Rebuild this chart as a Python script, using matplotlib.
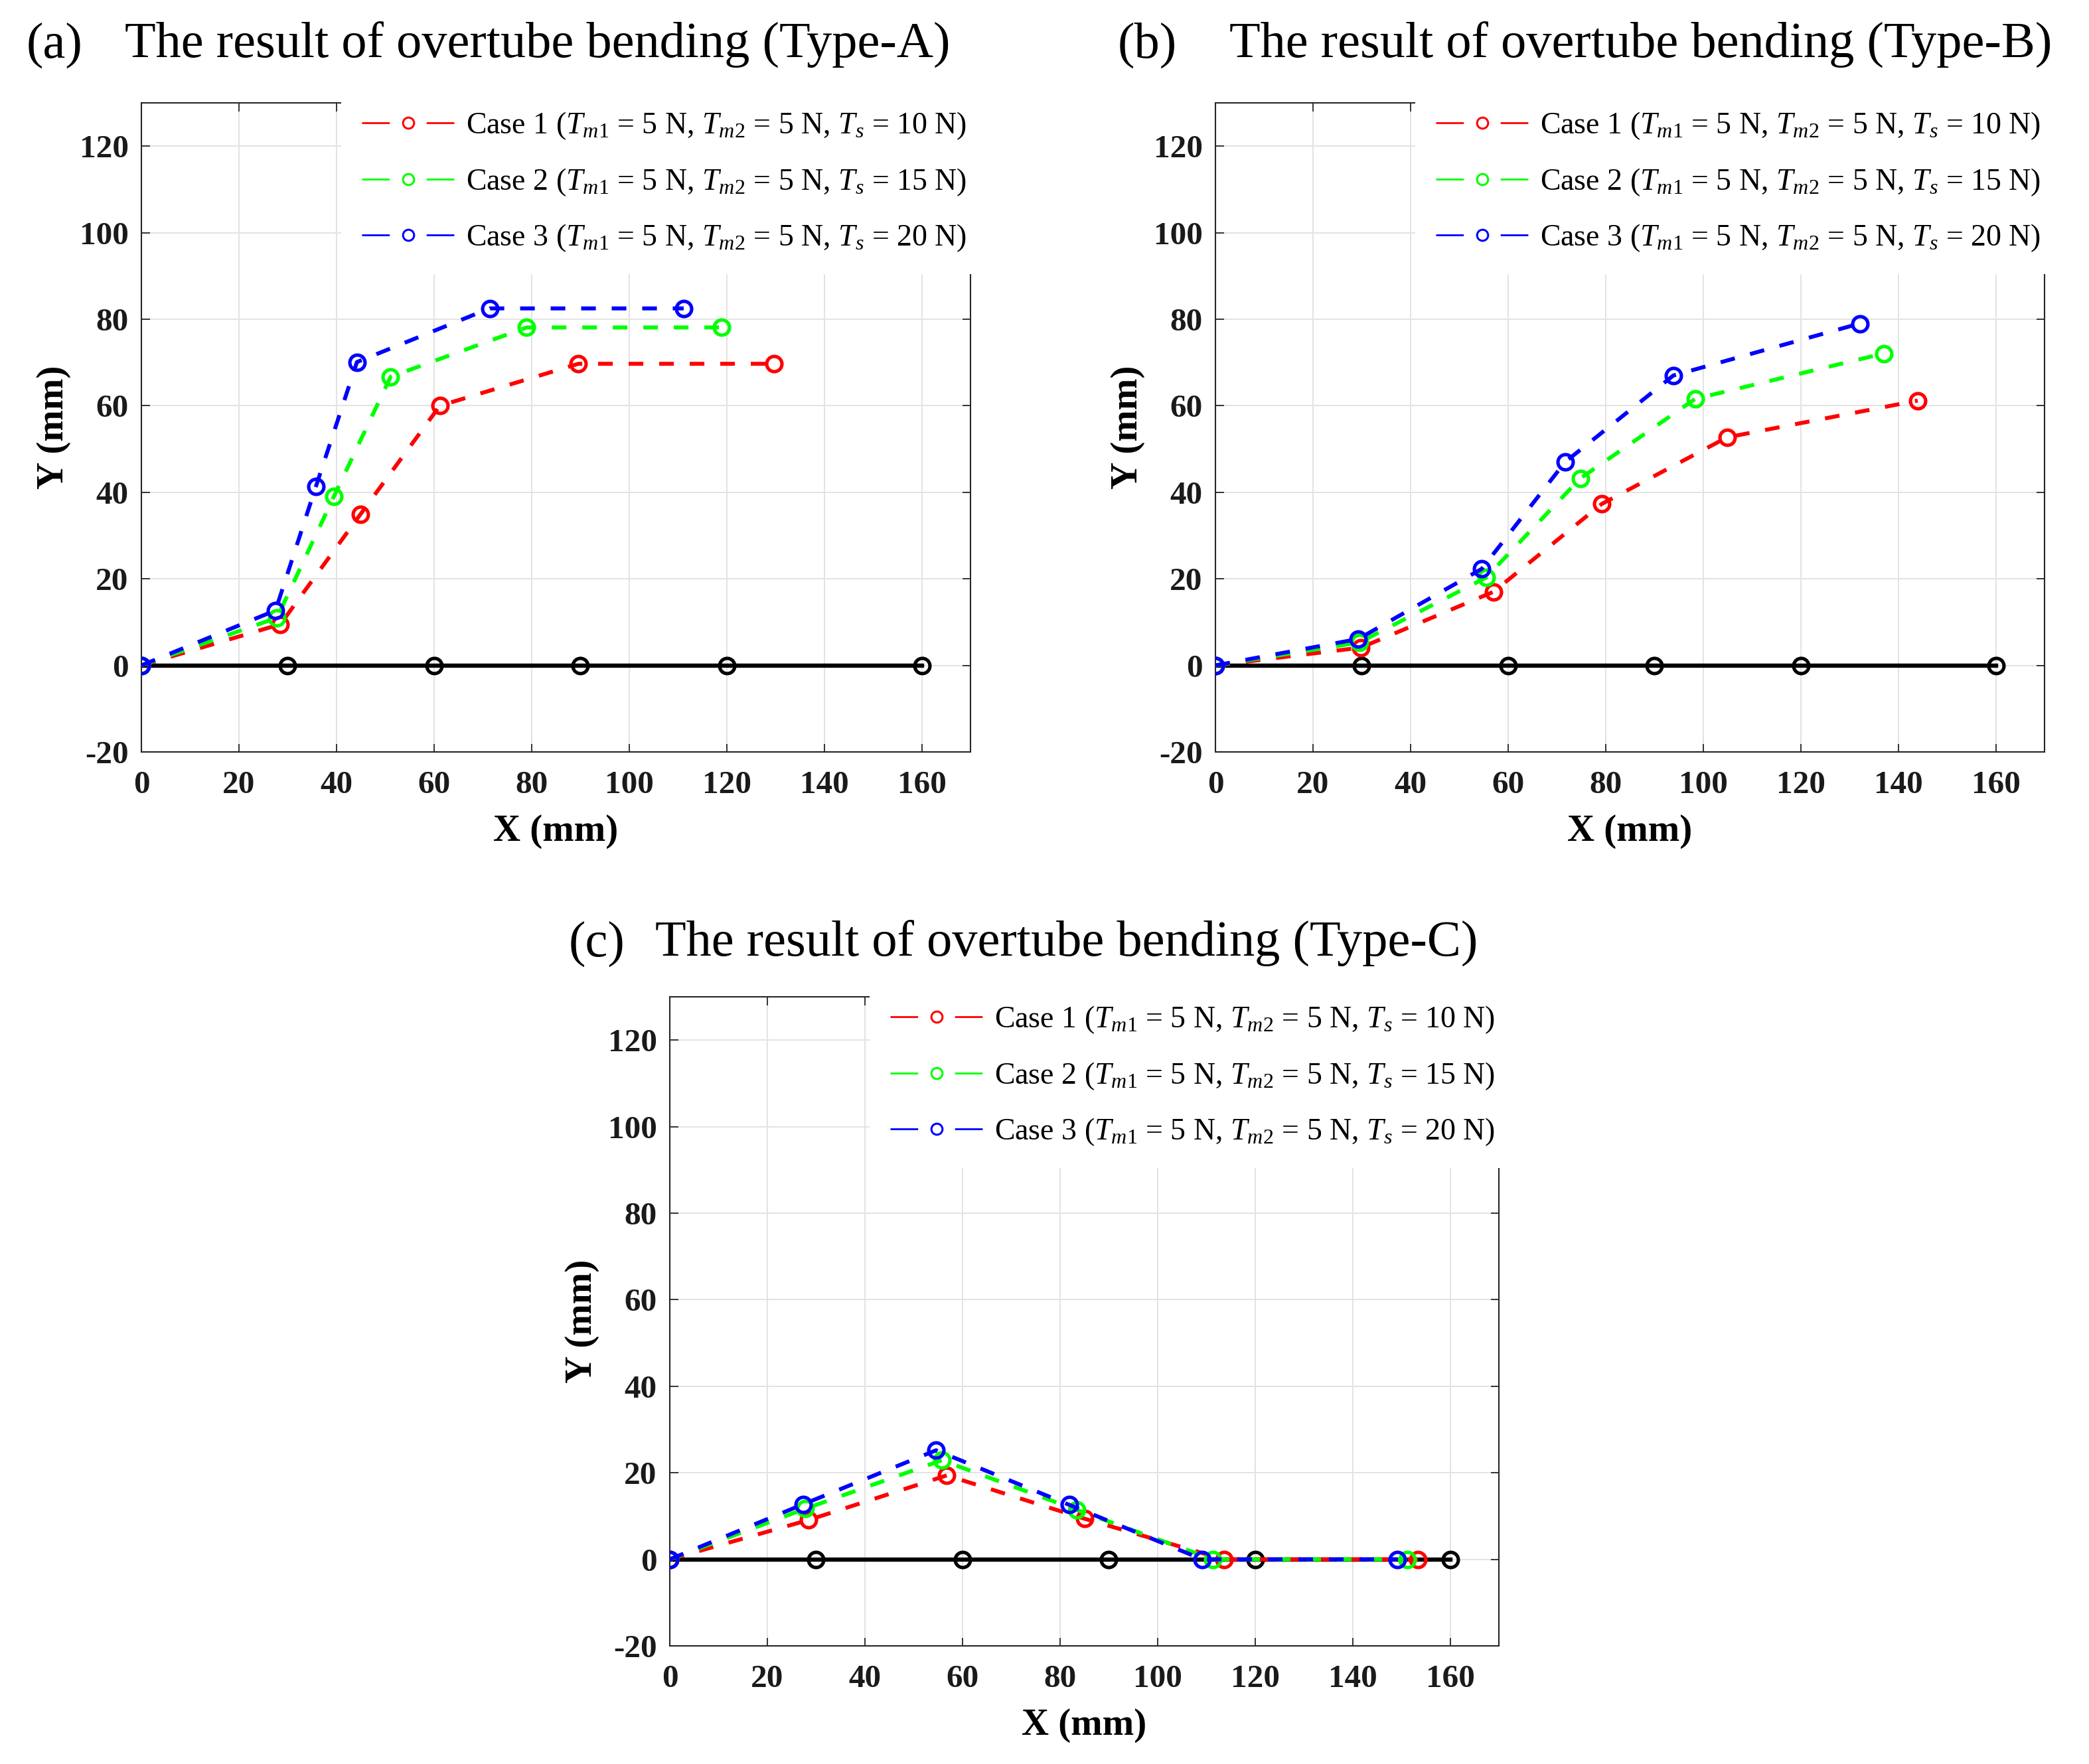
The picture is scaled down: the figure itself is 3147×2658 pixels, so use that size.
import matplotlib
matplotlib.use('Agg')
import matplotlib.pyplot as plt
from matplotlib.lines import Line2D

plt.rcParams['font.family'] = ['Liberation Serif', 'DejaVu Serif']
plt.rcParams['mathtext.fontset'] = 'custom'
plt.rcParams['mathtext.rm'] = 'Liberation Serif'
plt.rcParams['mathtext.it'] = 'Liberation Serif:italic'
plt.rcParams['mathtext.bf'] = 'Liberation Serif:bold'

# ---------------- data ----------------
base_x = [0, 30, 60, 90, 120, 160]
base_y = [0, 0, 0, 0, 0, 0]

# Type-A
a_c1_x = [0, 28.5, 44.9, 61.2, 89.6, 129.7]
a_c1_y = [0, 9.5, 34.9, 60.0, 69.7, 69.7]
a_c2_x = [0, 27.8, 39.5, 51.1, 79.0, 118.9]
a_c2_y = [0, 11.0, 39.1, 66.7, 78.1, 78.1]
a_c3_x = [0, 27.5, 35.8, 44.2, 71.4, 111.2]
a_c3_y = [0, 12.7, 41.4, 70.1, 82.5, 82.5]

# Type-B
b_c1_x = [0, 29.8, 57.0, 79.2, 104.9, 144.0]
b_c1_y = [0, 4.1, 17.0, 37.3, 52.7, 61.2]
b_c2_x = [0, 29.5, 55.5, 74.8, 98.4, 137.1]
b_c2_y = [0, 5.3, 20.3, 43.2, 61.6, 72.1]
b_c3_x = [0, 29.3, 54.6, 71.7, 93.9, 132.1]
b_c3_y = [0, 6.1, 22.3, 47.0, 67.0, 79.0]

# Type-C
c_c1_x = [0, 28.5, 56.8, 85.0, 113.6, 153.4]
c_c1_y = [0, 9.1, 19.4, 9.4, 0, 0]
c_c2_x = [0, 27.8, 55.8, 83.5, 111.4, 151.2]
c_c2_y = [0, 11.7, 22.9, 11.4, 0, 0]
c_c3_x = [0, 27.3, 54.6, 81.9, 109.2, 149.2]
c_c3_y = [0, 12.7, 25.2, 12.6, 0, 0]

case_labels = [
    r'Case 1 ($T_{m1}$ = 5 N, $T_{m2}$ = 5 N, $T_s$ = 10 N)',
    r'Case 2 ($T_{m1}$ = 5 N, $T_{m2}$ = 5 N, $T_s$ = 15 N)',
    r'Case 3 ($T_{m1}$ = 5 N, $T_{m2}$ = 5 N, $T_s$ = 20 N)',
]
case_colors = ['#ff0000', '#00ff00', '#0000ff']

panel_tags = ['(a)', '(b)', '(c)']
panel_titles = ['The result of overtube bending (Type-A)',
                'The result of overtube bending (Type-B)',
                'The result of overtube bending (Type-C)']

x_ticks = [0, 20, 40, 60, 80, 100, 120, 140, 160]
y_ticks = [-20, 0, 20, 40, 60, 80, 100, 120]

panels = [
    [(a_c1_x, a_c1_y), (a_c2_x, a_c2_y), (a_c3_x, a_c3_y)],
    [(b_c1_x, b_c1_y), (b_c2_x, b_c2_y), (b_c3_x, b_c3_y)],
    [(c_c1_x, c_c1_y), (c_c2_x, c_c2_y), (c_c3_x, c_c3_y)],
]

# ---------------- layout ----------------
W, H, DPI = 3147, 2658, 100
fig = plt.figure(figsize=(W / DPI, H / DPI), dpi=DPI)

ax_w = 1249 / W
ax_h = 978 / H
axes_pos = [
    (213 / W, 1 - 1133 / H),
    (1831 / W, 1 - 1133 / H),
    (1009 / W, 1 - 2480 / H),
]
title_pos = [
    (40 / W, 188 / W, 1 - 68 / H),
    (1684 / W, 1852 / W, 1 - 68 / H),
    (857 / W, 987 / W, 1 - 1422 / H),
]

for i, (series, (l, b)) in enumerate(zip(panels, axes_pos)):
    ax = fig.add_axes([l, b, ax_w, ax_h])
    ax.plot(base_x, base_y, '-', color='black', lw=4.6, marker='o',
            ms=16.5, mew=3.7, mfc='none', zorder=3)
    for (xs, ys), col in zip(series, case_colors):
        ax.plot(xs, ys, color=col, lw=4.3, dashes=(3.7, 4.0), marker='o',
                ms=16.5, mew=3.7, mfc='none', zorder=4)
    ax.set_xlim(0, 170)
    ax.set_ylim(-20, 130)
    ax.set_xticks(x_ticks)
    ax.set_yticks(y_ticks)
    ax.set_xticklabels([str(v) for v in x_ticks])
    ax.set_yticklabels([str(v) for v in y_ticks])
    ax.grid(True, color='#e3e3e3', lw=1.4, zorder=0)
    ax.set_axisbelow(True)
    ax.tick_params(direction='in', length=9, width=1.3, colors='#262626',
                   top=True, right=True, labelsize=35.5)
    ax.tick_params(axis='x', pad=20)
    ax.tick_params(axis='y', pad=14)
    for lab in ax.get_xticklabels() + ax.get_yticklabels():
        lab.set_fontweight('bold')
        lab.set_color('#1a1a1a')
    for sp in ax.spines.values():
        sp.set_color('#262626')
        sp.set_linewidth(1.5)
    ax.set_xlabel('X (mm)', fontsize=41, fontweight='bold', labelpad=16)
    ax.set_ylabel('Y (mm)', fontsize=41, fontweight='bold', labelpad=9)

    handles = [Line2D([], [], color=c, lw=2.0, dashes=(15, 20), marker='o',
                      ms=12, mew=2.2, mfc='none') for c in case_colors]
    leg = ax.legend(handles, case_labels, loc='lower left',
                    bbox_to_anchor=(0.241, 0.736), borderaxespad=0,
                    fontsize=33, frameon=True, facecolor='white',
                    edgecolor='none', framealpha=1, fancybox=False,
                    handlelength=3.05, handletextpad=0.37, labelspacing=0.82,
                    borderpad=0.68, numpoints=1)
    leg.set_zorder(10)

    tx, ttx, ty = title_pos[i]
    fig.text(tx, ty, panel_tags[i], fontsize=55, ha='left', va='center')
    fig.text(ttx, ty, panel_titles[i], fontsize=55, ha='left', va='center')

fig.savefig('out.png', dpi=DPI, facecolor='white')
